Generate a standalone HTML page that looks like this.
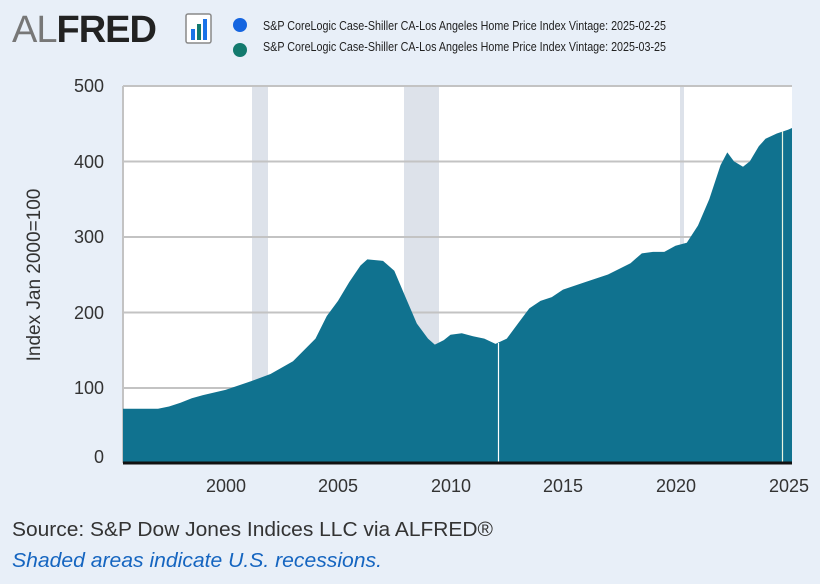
<!DOCTYPE html>
<html><head><meta charset="utf-8"><style>
body{margin:0;background:#e8eff8;}
svg{display:block;font-family:"Liberation Sans",sans-serif;}
</style></head><body>
<svg width="820" height="584" viewBox="0 0 820 584" xmlns="http://www.w3.org/2000/svg">
<rect width="820" height="584" fill="#e8eff8"/>
<!-- logo -->
<text x="12" y="42" font-size="38" letter-spacing="-1"><tspan fill="#777">AL</tspan><tspan fill="#222" font-weight="bold">FRED</tspan></text>
<rect x="186" y="14" width="25" height="29" fill="#fff" stroke="#888" stroke-width="1.5" rx="2"/>
<rect x="191" y="29" width="4" height="11" fill="#1a73e8"/>
<rect x="197" y="24" width="4" height="16" fill="#137a6e"/>
<rect x="203" y="19" width="4" height="21" fill="#1a73e8"/>
<!-- legend -->
<circle cx="240" cy="25" r="7" fill="#1565e0"/>
<circle cx="240" cy="50" r="7" fill="#137a6e"/>
<text x="263" y="30" font-size="12.5" fill="#222" textLength="403" lengthAdjust="spacingAndGlyphs">S&amp;P CoreLogic Case-Shiller CA-Los Angeles Home Price Index Vintage: 2025-02-25</text>
<text x="263" y="51" font-size="12.5" fill="#222" textLength="403" lengthAdjust="spacingAndGlyphs">S&amp;P CoreLogic Case-Shiller CA-Los Angeles Home Price Index Vintage: 2025-03-25</text>
<!-- plot -->
<rect x="123" y="86" width="669" height="377" fill="#fff"/>
<rect x="252" y="86" width="16" height="377" fill="#dde2ea"/>
<rect x="404" y="86" width="35" height="377" fill="#dde2ea"/>
<rect x="680" y="86" width="4" height="377" fill="#dde2ea"/>
<g stroke="#c3c3c3" stroke-width="2">
<line x1="123" y1="86" x2="792" y2="86"/>
<line x1="123" y1="161.5" x2="792" y2="161.5"/>
<line x1="123" y1="237" x2="792" y2="237"/>
<line x1="123" y1="312.5" x2="792" y2="312.5"/>
<line x1="123" y1="388" x2="792" y2="388"/>
<line x1="123" y1="86" x2="123" y2="463"/>
</g>
<polygon fill="#10728f" points="123,463 123,408.7 158,408.7 169,406.5 180.5,402.7 191.8,398.2 203,395.1 225.5,389.9 248,382.3 270.5,374 293,361.2 315.5,338.6 326.8,316 338,300.9 349.3,282 360.5,265.5 367.3,259.4 383,260.9 394.3,270.7 405.5,297.1 416.8,323.5 428,338.6 434.8,344.6 443.8,340.1 450.5,334.8 461.8,333.3 473,336.3 484.3,338.6 495.5,343.9 506.8,338.6 518,323.5 529.3,308.4 540.5,300.9 551.8,297.1 563,289.6 585.5,282 608,274.5 630.5,263.2 641.8,253.4 653,251.9 664.3,251.9 675.5,245.8 686.8,242.8 698,225.5 709.3,199.1 720.5,165.2 727.3,152.4 734,161.4 743,166.7 749.8,161.4 758.8,146.3 765.5,138.8 776.8,133.5 788,129.7 792,128 792,463"/>
<line x1="498.5" y1="343" x2="498.5" y2="463" stroke="#fff" stroke-width="1.2"/>
<line x1="782.5" y1="131" x2="782.5" y2="463" stroke="#e8f5e0" stroke-width="1.2"/>
<line x1="123" y1="463" x2="792" y2="463" stroke="#111" stroke-width="3"/>
<!-- y labels -->
<g font-size="18" fill="#333" text-anchor="end">
<text x="104" y="92">500</text>
<text x="104" y="168">400</text>
<text x="104" y="243">300</text>
<text x="104" y="319">200</text>
<text x="104" y="394">100</text>
<text x="104" y="463">0</text>
</g>
<text transform="translate(40,275) rotate(-90)" font-size="19" fill="#333" text-anchor="middle">Index Jan 2000=100</text>
<!-- x labels -->
<g font-size="18" fill="#333" text-anchor="middle">
<text x="226" y="492">2000</text>
<text x="338" y="492">2005</text>
<text x="451" y="492">2010</text>
<text x="563" y="492">2015</text>
<text x="676" y="492">2020</text>
<text x="789" y="492">2025</text>
</g>
<text x="12" y="536" font-size="20" fill="#333" textLength="481" lengthAdjust="spacingAndGlyphs">Source: S&amp;P Dow Jones Indices LLC via ALFRED®</text>
<text x="12" y="567" font-size="20" font-style="italic" fill="#1565c0" textLength="370" lengthAdjust="spacingAndGlyphs">Shaded areas indicate U.S. recessions.</text>
</svg>
</body></html>
